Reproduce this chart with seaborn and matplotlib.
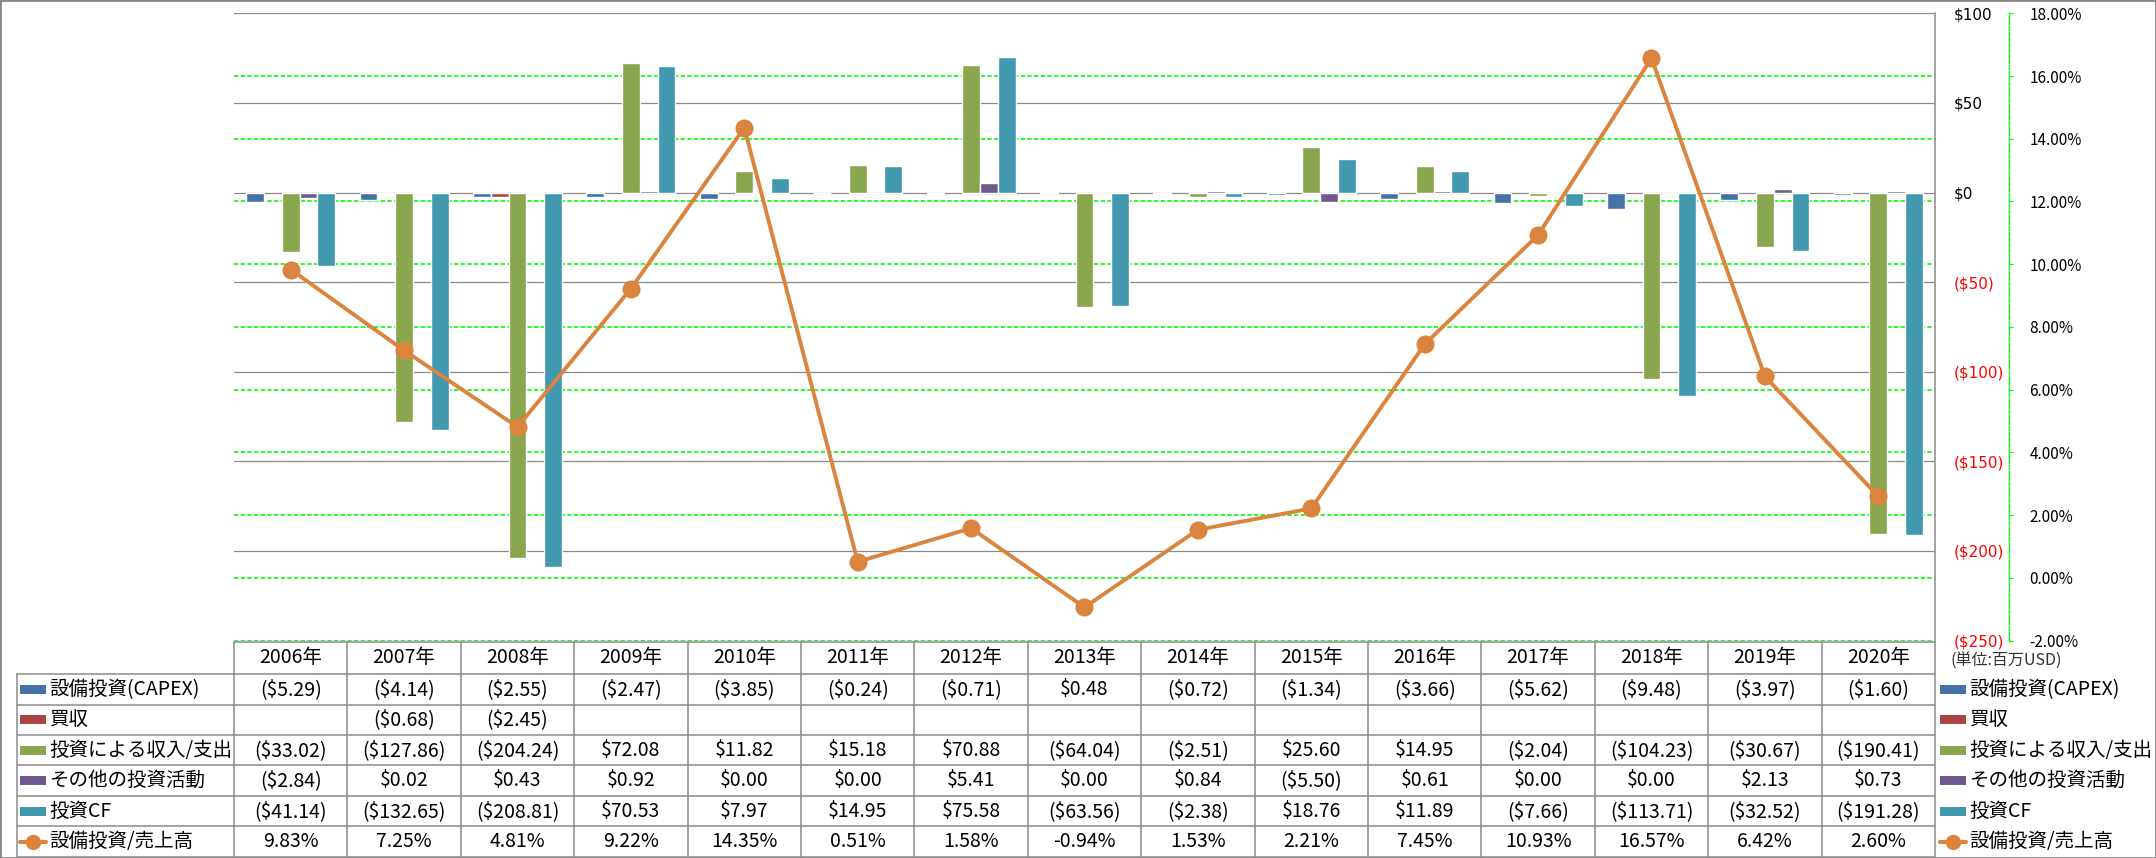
import numpy as np
import pandas as pd
import matplotlib
matplotlib.use("Agg")
import matplotlib.pyplot as plt
import seaborn as sns
from matplotlib.lines import Line2D
from matplotlib.patches import Rectangle

# ---------------- data ----------------
years = [f"{y}年" for y in range(2006, 2021)]
capex = [-5.29, -4.14, -2.55, -2.47, -3.85, -0.24, -0.71, 0.48, -0.72, -1.34, -3.66, -5.62, -9.48, -3.97, -1.60]
acquisition = [np.nan, -0.68, -2.45, np.nan, np.nan, np.nan, np.nan, np.nan, np.nan, np.nan, np.nan, np.nan, np.nan, np.nan, np.nan]
inv_income = [-33.02, -127.86, -204.24, 72.08, 11.82, 15.18, 70.88, -64.04, -2.51, 25.60, 14.95, -2.04, -104.23, -30.67, -190.41]
other_inv = [-2.84, 0.02, 0.43, 0.92, 0.00, 0.00, 5.41, 0.00, 0.84, -5.50, 0.61, 0.00, 0.00, 2.13, 0.73]
inv_cf = [-41.14, -132.65, -208.81, 70.53, 7.97, 14.95, 75.58, -63.56, -2.38, 18.76, 11.89, -7.66, -113.71, -32.52, -191.28]
capex_ratio_pct = [9.83, 7.25, 4.81, 9.22, 14.35, 0.51, 1.58, -0.94, 1.53, 2.21, 7.45, 10.93, 16.57, 6.42, 2.60]

series_names = ["設備投資(CAPEX)", "買収", "投資による収入/支出", "その他の投資活動", "投資CF"]
series_values = [capex, acquisition, inv_income, other_inv, inv_cf]
line_name = "設備投資/売上高"
unit_note = "(単位:百万USD)"

primary_ticks = [100, 50, 0, -50, -100, -150, -200, -250]
secondary_ticks_pct = [18, 16, 14, 12, 10, 8, 6, 4, 2, 0, -2]

colors = ["#4572A7", "#AA4643", "#89A54E", "#71588F", "#4198AF"]
line_color = "#DB843D"
grid_gray = "#8A8A8A"
green = "#00FF00"
red = "#FF0000"

# ---------------- setup ----------------
sns.set_theme(style="white")
CJK = ["Noto Sans CJK JP", "DejaVu Sans"]
plt.rcParams["font.family"] = CJK
plt.rcParams["text.color"] = "black"
plt.rcParams["xtick.color"] = "black"
plt.rcParams["ytick.color"] = "black"

W, H = 2156, 858
fig = plt.figure(figsize=(W / 100, H / 100), dpi=100)
fig.patch.set_facecolor("white")


def fx(px):
    return px / W


def fy(py):
    return 1 - py / H


L, R, T, B = 234, 1935, 13.3, 640.5
rect = [fx(L), fy(B), fx(R) - fx(L), fy(T) - fy(B)]
dash = (0, (2.6, 1.4))

# grid-only axes (secondary scale) behind everything
ax_g = fig.add_axes(rect, zorder=0)
ax_g.set_ylim(-0.02, 0.18)
ax_g.set_xlim(0, 1)
ax_g.set_yticks([v / 100 for v in secondary_ticks_pct])
ax_g.set_xticks([])
ax_g.tick_params(left=False, labelleft=False, bottom=False, labelbottom=False)
ax_g.grid(axis="y", color=green, linestyle=dash, linewidth=1.2)
for s in ax_g.spines.values():
    s.set_visible(False)

# bars (primary axis)
ax = fig.add_axes(rect, zorder=1)
ax.patch.set_alpha(0)
rows = []
for name, vals in zip(series_names, series_values):
    for yr, v in zip(years, vals):
        rows.append({"year": yr, "series": name, "value": v})
df = pd.DataFrame(rows)
sns.barplot(data=df, x="year", y="value", hue="series", order=years,
            hue_order=series_names, palette=colors, width=0.785, saturation=1,
            errorbar=None, legend=False, ax=ax)

# line (secondary axis)
ax2 = ax.twinx()
ax2.set_zorder(2)
ax2.patch.set_visible(False)
sns.lineplot(x=np.arange(len(years)), y=[v / 100 for v in capex_ratio_pct], ax=ax2,
             color=line_color, linewidth=2.8, marker="o", markersize=13,
             markeredgewidth=0, sort=False)

# primary axis styling (after twinx, which moves ticks to the left)
ax.set_xlim(-0.5, len(years) - 0.5)
ax.set_ylim(-250, 100)
ax.set_xlabel("")
ax.set_ylabel("")
ax.set_xticks([])
ax.set_yticks(primary_ticks)
ax.set_yticklabels([(rf"(\${-v:.0f})" if v < 0 else rf"\${v:.0f}") for v in primary_ticks],
                   family="DejaVu Sans")
ax.yaxis.tick_right()
ax.tick_params(axis="y", which="both", left=False, labelleft=False, right=False,
               labelright=True, length=0, pad=13.7, labelsize=11)
for t, v in zip(ax.yaxis.get_major_ticks(), primary_ticks):
    t.label2.set_color(red if v < 0 else "black")
    t.label2.set_family("DejaVu Sans")
ax.grid(axis="y", color=grid_gray, linewidth=0.9)
ax.set_axisbelow(True)
for k, s in ax.spines.items():
    s.set_visible(k == "right")
ax.spines["right"].set_color(grid_gray)
ax.spines["right"].set_linewidth(1.1)

# secondary axis styling
ax2.set_ylim(-0.02, 0.18)
ax2.set_xlim(-0.5, len(years) - 0.5)
ax2.set_yticks([v / 100 for v in secondary_ticks_pct])
ax2.set_yticklabels([f"{v:.2f}%" for v in secondary_ticks_pct], family="DejaVu Sans")
ax2.set_ylabel("")
ax2.grid(False)
ax2.tick_params(axis="y", direction="out", length=2.6, width=0.8, color=green, pad=12,
                labelsize=11)
for t, v in zip(ax2.yaxis.get_major_ticks(), secondary_ticks_pct):
    t.label2.set_color(red if v < 0 else "black")
for k, s in ax2.spines.items():
    s.set_visible(k == "right")
ax2.spines["right"].set_position(("outward", (2009 - R) * 0.72))
ax2.spines["right"].set_color(green)
ax2.spines["right"].set_linestyle(dash)
ax2.spines["right"].set_linewidth(1.0)

# ---------------- data table ----------------
row_edges = [641.7, 674, 704.5, 735, 765.3, 796, 826.3, 856.7]
label_left = 16.5
ncol = len(years)
col_w = (R - L) / ncol
col_edges = [L + k * col_w for k in range(ncol + 1)]
lw_tab = 1.1


def hline(y, x0, x1):
    fig.add_artist(Line2D([fx(x0), fx(x1)], [fy(y), fy(y)], transform=fig.transFigure,
                          color=grid_gray, linewidth=lw_tab))


def vline(x, y0, y1):
    fig.add_artist(Line2D([fx(x), fx(x)], [fy(y0), fy(y1)], transform=fig.transFigure,
                          color=grid_gray, linewidth=lw_tab))


hline(row_edges[0], L, R)
for y in row_edges[1:]:
    hline(y, label_left, R)
vline(label_left, row_edges[1], row_edges[-1])
for x in col_edges:
    vline(x, row_edges[0], row_edges[-1])


def money(v):
    if v is None or (isinstance(v, float) and np.isnan(v)):
        return ""
    return rf"(\${-v:.2f})" if v < 0 else rf"\${v:.2f}"


FS = 14
# header
yc = (row_edges[0] + row_edges[1]) / 2
for k, yr in enumerate(years):
    fig.text(fx(L + (k + 0.5) * col_w), fy(yc), yr, ha="center", va="center",
             fontsize=FS, family=CJK, color="black")

table_rows = [[money(v) for v in vals] for vals in series_values]
table_rows.append([f"{v:.2f}%" for v in capex_ratio_pct])
row_labels = series_names + [line_name]


def legend_key(x0, x1, yc, i):
    if i < len(colors):
        fig.add_artist(Rectangle((fx(x0), fy(yc + 4.5)), fx(x1) - fx(x0), 9 / H,
                                 transform=fig.transFigure, facecolor=colors[i],
                                 edgecolor="none"))
    else:
        fig.add_artist(Line2D([fx(x0), fx(x1)], [fy(yc), fy(yc)], transform=fig.transFigure,
                              color=line_color, linewidth=3))
        fig.add_artist(Line2D([fx((x0 + x1) / 2)], [fy(yc)], transform=fig.transFigure,
                              color=line_color, marker="o", markersize=11,
                              markeredgewidth=0, linestyle="none"))


for i, (lab, vals) in enumerate(zip(row_labels, table_rows)):
    yc = (row_edges[i + 1] + row_edges[i + 2]) / 2
    legend_key(20, 46, yc, i)
    fig.text(fx(49), fy(yc), lab, ha="left", va="center", fontsize=FS, family=CJK,
             color="black")
    for k, s in enumerate(vals):
        fig.text(fx(L + (k + 0.5) * col_w), fy(yc), s, ha="center", va="center",
                 fontsize=FS, family=CJK, color="black")
    # right legend
    legend_key(1940, 1966, yc, i)
    fig.text(fx(1969), fy(yc), lab, ha="left", va="center", fontsize=FS, family=CJK,
             color="black")

fig.text(fx(1950), fy(661), unit_note, ha="left", va="center", fontsize=11.5,
         family=CJK, color="#333333")

# outer border
fig.add_artist(Rectangle((0, 0), 1, 1, transform=fig.transFigure, fill=False,
                         edgecolor="#868686", linewidth=2))

fig.savefig("out.png", dpi=100)
